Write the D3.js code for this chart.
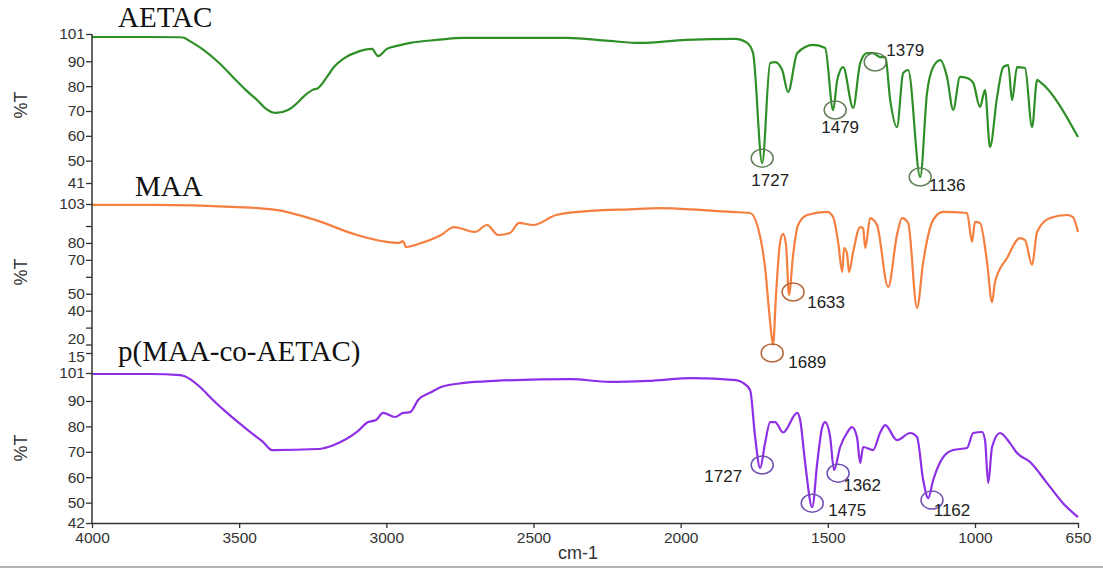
<!DOCTYPE html>
<html lang="en">
<head>
<meta charset="UTF-8">
<title>FTIR</title>
<script src="https://d3js.org/d3.v7.min.js"></script>
<style>
  body { margin: 0; background: #fff; }
</style>
</head>
<body>
<svg width="1103" height="574"></svg>
<script>
// spectra: wavenumber (cm-1) and %T
var aetacWn = [4000,3803,3700,3687,3674,3620,3568,3520,3477,3440,3412,3375,3334,3300,3283,3250,3232,3200,3178,3140,3100,3049,3028,2998,2960,2919,2828,2736,2386,2243,2138,1982,1815,1774,
  1754,1723,1696,1679,1655,1635,1604,1550,1509,1482,1468,1448,1414,1390,1367,1346,1322,1305,1288,1265,1244,1227,1186,1163,1142,1118,1095,1074,
  1051,1027,1006,983,966,949,925,904,887,874,857,830,806,789,779,650];
var aetacT = [99.8,99.8,99.7,99.5,98.6,94.5,89.3,83.5,78.4,74.5,71.2,69.2,70.4,73.5,75.6,78.5,79.2,84.0,87.7,91.5,93.7,95.0,92.1,95.0,96.3,97.4,98.6,99.4,99.4,98.2,97.4,98.6,99.0,97.4,
  93.3,49.0,89.3,89.7,86.5,77.6,93.3,96.6,95.4,70.4,82.5,87.7,71.2,89.3,93.3,93.3,91.7,91.7,74.4,63.5,85.3,86.5,43.4,77.2,87.7,90.5,83.7,70.4,
  83.7,83.3,81.3,71.6,78.4,55.5,75.6,87.7,88.5,74.4,87.7,87.3,63.5,82.5,81.7,59.5];

var maaWn = [4000,3803,3504,3375,3242,3100,2998,2957,2943,2933,2892,2814,2770,2699,2658,2620,2580,2549,2501,2423,2308,2151,2073,1934,1825,1764,
  1737,1713,1696,1686,1676,1662,1652,1642,1632,1618,1601,1570,1502,1482,1465,1451,1445,1435,1428,1414,1390,1380,1373,1356,1333,1295,1265,1248,
  1227,1197,1176,1142,1108,1027,1010,1000,983,959,942,932,891,847,830,806,789,745,687,667,650];
var maaT = [102.5,102.5,101.2,99.5,93.6,84.7,80.6,80.0,81.1,77.6,79.4,84.7,89.4,86.5,90.6,84.7,85.9,91.8,90.6,96.5,98.9,100.0,100.6,99.5,98.3,97.7,
  88.8,65.2,33.3,19.7,49.3,80.6,85.3,78.8,49.3,72.9,90.6,96.5,98.3,95.3,80.6,62.8,77.0,74.1,62.8,74.7,89.4,88.8,77.0,94.7,90.6,54.0,84.7,94.7,
  91.8,41.6,68.7,93.6,98.3,97.7,80.6,92.4,91.8,68.7,45.1,56.9,71.1,82.9,81.7,67.0,86.5,94.7,96.5,95.3,86.5];

var copWn = [4000,3803,3700,3687,3633,3590,3541,3500,3463,3420,3388,3232,3178,3100,3062,3035,3011,2970,2943,2919,2892,2850,2814,2736,2634,2372,2243,2111,1958,1812,1788,
  1764,1747,1730,1713,1696,1679,1652,1604,1594,1577,1553,1536,1519,1509,1492,1479,1458,1435,1418,1401,1390,1380,1346,1322,1305,1265,1220,1197,
  1176,1159,1142,1108,1074,1027,1006,976,966,955,942,915,881,857,813,755,701,650];
var copT = [100.6,100.6,100.2,99.8,95.5,90.5,85.3,81.3,77.8,74.0,70.7,71.1,72.7,77.8,81.7,82.5,85.3,83.7,85.3,85.6,90.4,93.3,95.5,97.1,97.9,98.6,97.5,97.9,99.0,98.2,97.1,
  94.3,75.8,63.6,73.6,81.7,81.7,77.6,85.3,82.5,65.6,48.2,65.6,79.7,81.7,75.8,62.8,71.9,77.4,79.7,75.8,65.6,71.9,70.7,77.6,80.5,74.6,77.4,75.8,
  58.9,51.8,58.9,67.9,70.7,71.5,77.4,77.8,74.6,57.7,71.9,77.4,73.4,69.5,66.0,57.7,49.8,44.3];

// axes ticks
var xTicks = [4000,3500,3000,2500,2000,1500,1000,650];
var aetacTicks = [101,90,80,70,60,50,41];
var maaTicks = [103,90,80,70,60,50,40,30,20,15];
var maaTickLabels = [103,80,70,50,40,20,15];
var copTicks = [101,90,80,70,60,50,42];

// marked peaks: label, wavenumber and %T of the circle
var aetacPeakLabels = ['1727','1479','1379','1136'];
var aetacPeakWn = [1723,1475,1339,1186];
var aetacPeakT = [51,70.4,89.7,43.4];
var maaPeakLabels = ['1633','1689'];
var maaPeakWn = [1618,1689];
var maaPeakT = [51,15];
var copPeakLabels = ['1727','1475','1362','1162'];
var copPeakWn = [1723,1553,1465,1146];
var copPeakT = [64.8,49.8,61.6,51];

var sans = '"Liberation Sans", Arial, sans-serif';
var serif = '"Liberation Serif", "Times New Roman", serif';

var svg = d3.select('svg');

var x = d3.scaleLinear().domain([4000,650]).range([92,1078]);

var panels = [
  {name:'AETAC', wn:aetacWn, t:aetacT, dom:[41,101], rng:[183,34], ticks:aetacTicks, labels:aetacTicks,
   color:'#2f8f27', ring:'#627f58', title:[118,27], tlabel:105,
   pk:{labels:aetacPeakLabels, wn:aetacPeakWn, t:aetacPeakT}, off:[[8,22],[5,17],[30,-12],[27,8]]},
  {name:'MAA', wn:maaWn, t:maaT, dom:[15,103], rng:[353,204], ticks:maaTicks, labels:maaTickLabels,
   color:'#f57f3f', ring:'#b5683c', title:[135,196], tlabel:272,
   pk:{labels:maaPeakLabels, wn:maaPeakWn, t:maaPeakT}, off:[[33,10],[35,9]]},
  {name:'p(MAA-co-AETAC)', wn:copWn, t:copT, dom:[42,101], rng:[523,373], ticks:copTicks, labels:copTicks,
   color:'#8c2fe6', ring:'#6f4fb3', title:[118,361], tlabel:448,
   pk:{labels:copPeakLabels, wn:copPeakWn, t:copPeakT}, off:[[-39,11],[35,7],[24,12],[20,10]]}
];

panels.forEach(function (p) {
  var y = d3.scaleLinear().domain(p.dom).range(p.rng);

  var ax = svg.append('g').attr('transform','translate(92,0)')
    .call(d3.axisLeft(y).tickValues(p.ticks).tickSize(6).tickPadding(1)
      .tickFormat(function (d) { return p.labels.indexOf(d) >= 0 ? d : ''; }));
  ax.select('.domain').remove();
  ax.selectAll('line').attr('stroke','#333').attr('stroke-width',1.3);
  ax.selectAll('text').attr('font-size',15.5).attr('fill','#333')
    .style('font-family', sans)
    .attr('dy', function (d) {
      // the two lowest MAA labels sit tight together
      if (p.name === 'MAA' && d === 20) return '-0.05em';
      if (p.name === 'MAA' && d === 15) return '0.55em';
      return '0.32em';
    });

  // %T label
  svg.append('text')
    .attr('transform','translate(27,' + p.tlabel + ') rotate(-90)')
    .attr('text-anchor','middle')
    .attr('font-size',18).attr('fill','#333')
    .style('font-family', sans)
    .text('%T');

  var line = d3.line()
    .curve(d3.curveMonotoneX)
    .x(function (d, i) { return x(p.wn[i]); })
    .y(function (d, i) { return y(p.t[i]); });
  svg.append('path').datum(p.wn)
    .attr('d', line)
    .attr('fill','none')
    .attr('stroke', p.color)
    .attr('stroke-width', 2.2)
    .attr('stroke-linejoin','round');

  svg.append('text')
    .attr('x', p.title[0]).attr('y', p.title[1])
    .style('font-family', serif)
    .attr('font-size', 29).attr('fill','#111')
    .text(p.name);

  p.pk.labels.forEach(function (lab, i) {
    var cx = x(p.pk.wn[i]), cy = y(p.pk.t[i]);
    svg.append('ellipse')
      .attr('cx', cx).attr('cy', cy).attr('rx', 11).attr('ry', 9)
      .attr('fill','none').attr('stroke', p.ring).attr('stroke-width', 1.5);
    svg.append('text')
      .attr('x', cx + p.off[i][0]).attr('y', cy + p.off[i][1])
      .attr('text-anchor','middle').attr('dy','0.35em')
      .attr('font-size', 17).attr('fill','#222')
      .style('font-family', sans)
      .text(lab);
  });
});

// continuous y axis line
svg.append('line').attr('x1',92).attr('x2',92).attr('y1',34).attr('y2',523)
  .attr('stroke','#333').attr('stroke-width',1.5);

// x axis
var xa = svg.append('g').attr('transform','translate(0,523)')
  .call(d3.axisBottom(x).tickValues(xTicks).tickSize(5).tickSizeOuter(0).tickPadding(4).tickFormat(d3.format('d')));
xa.select('.domain').attr('stroke','#333').attr('stroke-width',1.5);
xa.selectAll('line').attr('stroke','#333').attr('stroke-width',1.3);
xa.selectAll('text').attr('font-size',15.5).attr('fill','#333')
  .style('font-family', sans);

svg.append('text').attr('x',578).attr('y',559)
  .attr('text-anchor','middle').attr('font-size',18).attr('fill','#333')
  .style('font-family', sans)
  .text('cm-1');

// separator under the figure
svg.append('line').attr('x1',0).attr('x2',1103).attr('y1',567).attr('y2',567)
  .attr('stroke','#9a9a9a').attr('stroke-width',1.5);
</script>
</body>
</html>
